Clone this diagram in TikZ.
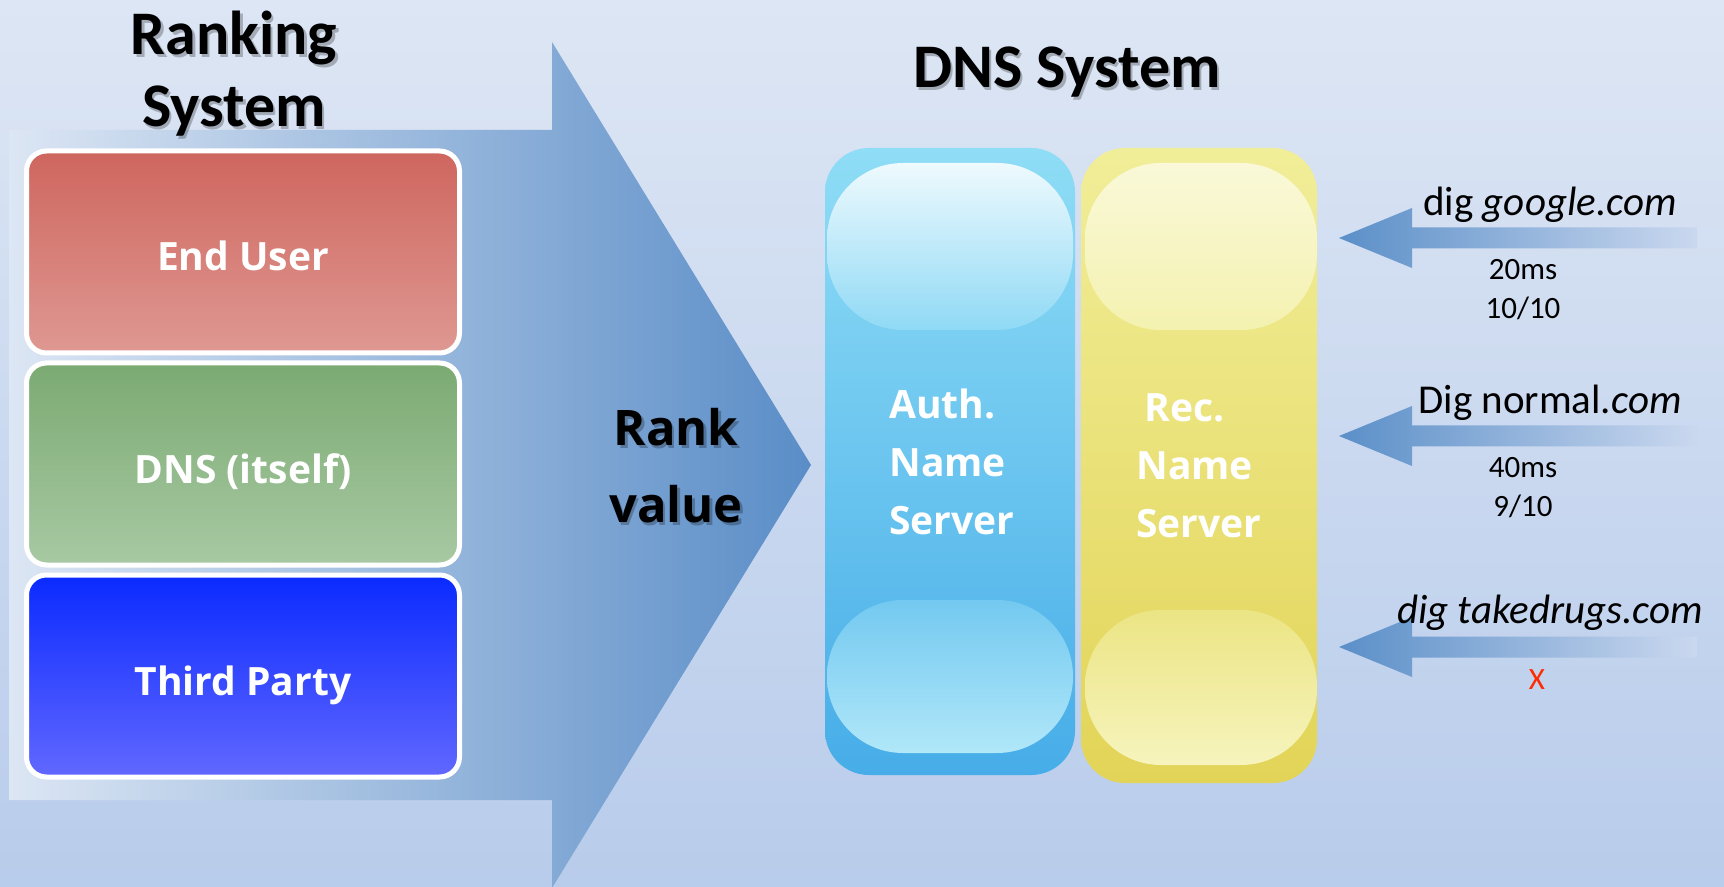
\documentclass[tikz,border=0pt]{standalone}
\usepackage{fontspec}
\setmainfont{Carlito}
\newfontfamily\segoe{Open Sans}
\usepackage{tikz}
\usetikzlibrary{calc}
\usetikzlibrary{positioning}
\usepackage{color}

\definecolor{fondhaut}{HTML}{DDE6F4}
\definecolor{fondbas}{HTML}{B8CCEB}
\definecolor{flecheG}{HTML}{DCE6F4}
\definecolor{flecheD}{HTML}{5A8DC7}
\definecolor{euhaut}{HTML}{CE665E}
\definecolor{eubas}{HTML}{DF9892}
\definecolor{dnshaut}{HTML}{7BAA72}
\definecolor{dnsbas}{HTML}{A8C9A3}
\definecolor{tphaut}{HTML}{0A2AFF}
\definecolor{tpbas}{HTML}{6268FF}
\definecolor{authhaut}{HTML}{8FDDF6}
\definecolor{authbas}{HTML}{47ADE8}
\definecolor{rechaut}{HTML}{F1EE99}
\definecolor{recbas}{HTML}{E2D457}
\definecolor{digG}{HTML}{5B8FC8}
\definecolor{digD}{HTML}{CAD8EF}
\definecolor{croix}{HTML}{FF2A00}

\begin{document}
\begin{tikzpicture}[x=0.5pt,y=-0.5pt,
	boite/.style={minimum width=216.5pt,minimum height=101pt,inner sep=0pt,
		rounded corners=10pt,draw=white,line width=2.5pt,text=white,
		text height=20pt,text depth=1pt,
		font=\segoe\bfseries\fontsize{19.5}{24}\selectfont},
	serveur/.style={inner sep=0pt,rounded corners=22pt,text=white,align=left,
		font=\segoe\bfseries\fontsize{19.5}{29}\selectfont},
	reflet/.style={rounded corners=38pt},
	titre/.style={align=center,font=\bfseries\fontsize{31}{36}\selectfont},
	grostitre/.style={align=center,font=\segoe\bfseries\fontsize{24.5}{38.5}\selectfont},
	ombre/.style={text=black,opacity=0.25,xshift=1.2pt,yshift=-1.5pt},
	requete/.style={font=\fontsize{20.5}{24}\selectfont},
	mesure/.style={align=center,font=\fontsize{15.5}{19.5}\selectfont}]
%					Fond :
					\useasboundingbox (0,0) rectangle (1724,887);
					\shade[top color=fondhaut,bottom color=fondbas] (0,0) rectangle (1724,887);
%					Grande flèche :
					\shade[left color=flecheG,right color=flecheD] (9,130) -- (552,130) -- (552,42) -- (811,465) -- (552,888) -- (552,800) -- (9,800) -- cycle;
%					Titres (avec ombre) :
					\node[titre,ombre] (titrerang-o) at (234,74) {Ranking\\System};
					\node[titre] (titrerang) at (234,74) {Ranking\\System};
					\node[titre,ombre] (titredns-o) at (1067,72) {DNS System};
					\node[titre] (titredns) at (1067,72) {DNS System};
%					Les trois sources :
					\node[boite,top color=euhaut,bottom color=eubas] (user) at (243,252) {End User};
					\node[boite,top color=dnshaut,bottom color=dnsbas,below=2.5pt of user] (dnsself) {DNS (itself)};
					\node[boite,top color=tphaut,bottom color=tpbas,below=2.5pt of dnsself] (tiers) {Third Party};
					\node[grostitre,ombre] (rang-o) at (676,466) {Rank\\value};
					\node[grostitre] (rang) at (676,466) {Rank\\value};
%					Serveurs de noms :
					\node[serveur,top color=authhaut,bottom color=authbas,minimum width=125pt,minimum height=313.5pt] (auth) at (950,461.5) {\hspace*{2pt}Auth.\\\hspace*{2pt}Name\\\hspace*{2pt}Server};
					\node[serveur,top color=rechaut,bottom color=recbas,minimum width=118pt,minimum height=317.5pt] (rec) at (1199,465.5) {\hspace*{4pt}Rec.\\Name\\Server};
					\shade[reflet,top color=white!85!authhaut,bottom color=white!12!authhaut!85!authbas] (827,163) rectangle (1073,330);
					\shade[reflet,top color=white!8!authhaut!55!authbas,bottom color=white!30!authhaut] (827,600) rectangle (1073,753);
					\shade[reflet,top color=white!62!rechaut,bottom color=white!22!rechaut] (1085,163) rectangle (1317,330);
					\shade[reflet,top color=white!10!rechaut!60!recbas,bottom color=white!35!rechaut] (1085,610) rectangle (1317,765);
%					Requêtes :
					\foreach \y/\n in {238/a,436/b,647/c}{
						\coordinate (pointe\n) at (1339,\y);
						\shade[left color=digG,right color=digD] (pointe\n) -- ++(73,-30) -- ++(0,19.5) -- ++(285,0) -- ++(0,21) -- ++(-285,0) -- ++(0,19.5) -- cycle;
					}
					\node[requete] (qa) at (1550,205) {dig \textit{google.com}};
					\node[requete] (qb) at (1550,403) {Dig normal.\textit{com}};
					\node[requete] (qc) at (1550,613) {\textit{dig takedrugs.com}};
					\node[mesure] (ma) at (1523,290) {20ms\\10/10};
					\node[mesure] (mb) at (1523,488) {40ms\\9/10};
					\node[mesure,text=croix] (mc) at (1537,680) {X};
				\end{tikzpicture}
\end{document}
